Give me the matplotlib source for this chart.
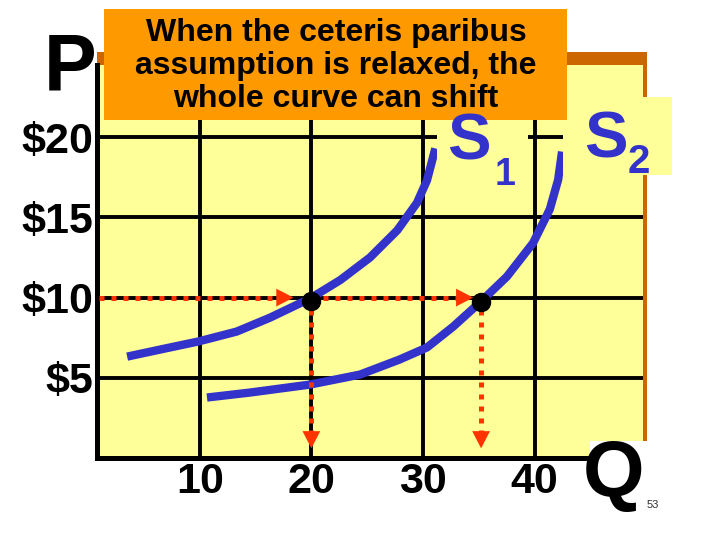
import numpy as np
import matplotlib
matplotlib.use("Agg")
import matplotlib.pyplot as plt
from matplotlib.patches import Rectangle

plt.rcParams["font.family"] = ["Liberation Sans", "DejaVu Sans"]

# supply curves (quantity, price)
S1_Q = [3.5, 6.45, 9.85, 13.3, 16.3, 19.9, 22.6, 25.25, 27.7, 29.45, 30.35, 31.1]
S1_P = [6.32, 6.76, 7.26, 7.88, 8.75, 9.95, 11.1, 12.5, 14.2, 15.9, 17.3, 19.3]
S2_Q = [10.65, 14.5, 19.9, 24.35, 27.9, 30.35, 32.7, 35.1, 37.5, 39.85, 41.35, 42.1, 42.45]
S2_P = [3.77, 4.08, 4.58, 5.2, 6.14, 6.89, 8.19, 9.7, 11.3, 13.4, 15.5, 17.35, 19.1]

PRICE = 10
Q_OLD, Q_NEW = 20, 35.2

X_TICKS = [10, 20, 30, 40]
Y_TICKS = [5, 10, 15, 20]
Y_LABELS = ["$5", "$10", "$15", "$20"]

TITLE = "When the ceteris paribus\nassumption is relaxed, the\nwhole curve can shift"

BLUE = "#3333CC"
RED = "#FF3300"
YELLOW = "#FFFF99"
ORANGE = "#FF9900"
SHADOW = "#CC6600"

W, H = 720, 540


def px_rect(x0, y0, x1, y1, **kw):
    return Rectangle((x0 / W, 1 - y1 / H), (x1 - x0) / W, (y1 - y0) / H,
                     transform=fig.transFigure, lw=0, **kw)


def px_text(x, y, s, **kw):
    fig.text(x / W, 1 - y / H, s, fontweight="bold", **kw)


fig = plt.figure(figsize=(7.2, 5.4), dpi=100)
fig.add_artist(px_rect(97, 52, 647, 445, color=SHADOW, zorder=-1))

ax = fig.add_axes([97 / W, 1 - 458 / H, (643 - 97) / W, (458 - 65) / H])
ax.set_facecolor(YELLOW)
ax.set_xlim(0.8, 49.7)
ax.set_ylim(0.0, 24.5)

ax.set_xticks(X_TICKS)
ax.set_xticklabels([str(v) for v in X_TICKS], fontweight="bold")
ax.set_yticks(Y_TICKS)
ax.set_yticklabels(Y_LABELS, fontweight="bold")
ax.tick_params(length=0, labelsize=31, pad=3)
ax.grid(True, color="black", linewidth=2.8)
ax.set_axisbelow(True)
for side in ["top", "right"]:
    ax.spines[side].set_visible(False)
for side in ["left", "bottom"]:
    ax.spines[side].set_linewidth(3.6)
    ax.spines[side].set_color("black")

ax.plot(S1_Q, S1_P, color=BLUE, lw=6.0, solid_capstyle="butt", zorder=2)
ax.plot(S2_Q, S2_P, color=BLUE, lw=6.0, solid_capstyle="butt", zorder=2)

dots = dict(color=RED, lw=3.6, ls=(0, (1.0, 1.4)), zorder=3)
head = dict(arrowstyle="-|>,head_length=0.62,head_width=0.32", color=RED,
            lw=0, mutation_scale=20, shrinkA=0, shrinkB=0)

# horizontal arrows at the price
ax.plot([1.0, 17.5], [PRICE, PRICE], **dots)
ax.annotate("", xy=(18.4, PRICE), xytext=(16.0, PRICE), arrowprops=head, zorder=4)
ax.plot([Q_OLD, 33.5], [PRICE, PRICE], **dots)
ax.annotate("", xy=(34.5, PRICE), xytext=(32.0, PRICE), arrowprops=head, zorder=4)
# vertical arrows to the quantities
for q in [Q_OLD, Q_NEW]:
    ax.plot([q, q], [PRICE, 1.4], **dots)
    ax.annotate("", xy=(q, 0.6), xytext=(q, 3.0), arrowprops=head, zorder=4)

ax.plot([Q_OLD, Q_NEW], [9.8, 9.75], "o", color="black", ms=13, zorder=5)

# label boxes that hide the curve tops
fig.add_artist(px_rect(437, 118, 528, 198, color=YELLOW, zorder=4))
fig.add_artist(px_rect(563, 97, 672, 175, color=YELLOW, zorder=4))
px_text(447, 160, "S", color=BLUE, fontsize=47, zorder=6)
px_text(495, 185, "1", color=BLUE, fontsize=27, zorder=6)
px_text(584, 157, "S", color=BLUE, fontsize=47, zorder=6)
px_text(628, 173, "2", color=BLUE, fontsize=29, zorder=6)

# title box
fig.add_artist(px_rect(104, 9, 567, 120, color=ORANGE, zorder=5))
px_text(336, 66, TITLE, ha="center", va="center", fontsize=23, linespacing=1.15,
        color="black", zorder=6)

px_text(44, 90, "P", fontsize=57, color="black", zorder=6)

fig.add_artist(px_rect(590, 441, 665, 520, color="white", zorder=5))
px_text(583, 496, "Q", fontsize=57, color="black", zorder=6)
fig.text(647 / W, 1 - 508 / H, "53", fontsize=8, color="#333333", zorder=6)

fig.savefig("out.png", dpi=100)
